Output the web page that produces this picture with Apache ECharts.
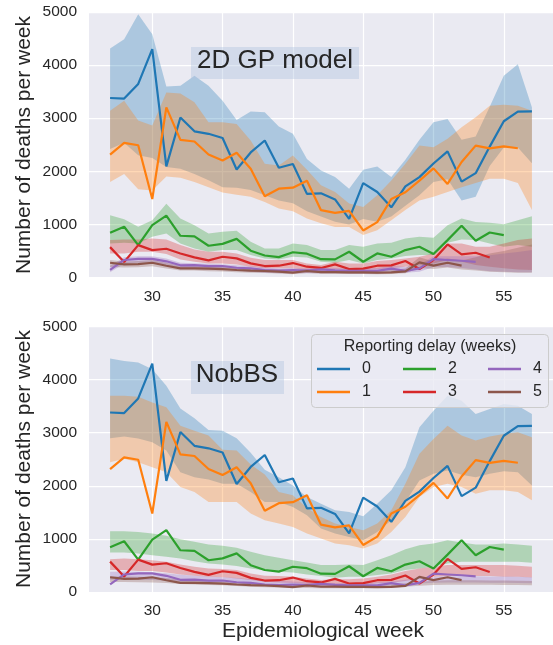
<!DOCTYPE html>
<html><head><meta charset="utf-8">
<script src="https://cdn.jsdelivr.net/npm/echarts@6/dist/echarts.min.js"></script>
<style>html,body{margin:0;padding:0;background:#fff}#c{width:553px;height:645px}</style>
</head><body><div id="c"></div>
<script>
// ---- data ----
const weeks = [27,28,29,30,31,32,33,34,35,36,37,38,39,40,41,42,43,44,45,46,47,48,49,50,51,52,53,54,55,56,57];
const delays = ['0','1','2','3','4','5'];

// observed counts per reporting delay (shared by both panels)
const obs0 = [3380,3370,3645,4300,2092,3012,2753,2706,2628,2035,2355,2580,2068,2138,1575,1585,1470,1105,1777,1610,1322,1715,1890,2147,2375,1806,1965,2465,2943,3125,3128];
const obs1 = [2315,2536,2490,1479,3204,2592,2561,2317,2204,2348,2048,1529,1673,1692,1822,1268,1218,1255,886,1042,1478,1605,1825,2055,1762,2175,2484,2431,2468,2434];
const obs2 = [843,955,611,986,1164,786,774,598,633,727,505,414,383,476,448,345,341,485,297,453,391,516,579,441,704,973,691,848,797];
const obs3 = [572,291,610,516,541,453,378,322,391,360,266,216,222,272,203,180,247,159,166,222,228,310,159,328,622,435,466,378];
const obs4 = [142,330,352,352,305,230,234,216,216,184,172,141,128,141,128,152,136,124,124,124,168,124,172,345,330,315,293];
const obs5 = [278,247,253,278,222,172,172,166,159,141,128,122,109,91,122,103,103,97,97,91,97,116,286,223,277,223];

// 2D GP model intervals
const gp0Lo = [2420,2540,2300,2250,2080,2050,1950,1830,1700,1690,1650,1550,1450,1400,1250,1150,1050,1000,1100,1050,1150,1350,1550,1800,1850,1450,1520,2100,2450,2450,2150];
const gp0Hi = [4311,4487,4956,4581,3598,3611,3799,3611,3330,2968,3124,3110,2842,2705,2230,2017,1891,1673,2030,2092,1891,2217,2592,2923,2986,2592,2655,3217,3799,4018,3204];
const gp1Lo = [1800,1950,1660,1640,1900,1880,1800,1700,1600,1560,1520,1420,1300,1250,1110,1020,950,950,800,890,1080,1270,1450,1520,1610,1700,1780,1860,1860,1780,1270];
const gp1Hi = [3142,3330,2955,2861,3486,3467,3299,2923,2923,2892,2580,2142,2111,2298,2030,1735,1610,1392,1329,1548,1829,2142,2486,2454,2611,2829,3017,3236,3255,3236,3142];
const gp2Lo = [641,653,641,766,829,641,547,485,516,516,422,360,341,391,378,297,278,328,266,328,360,403,422,422,653,716,704,641,579,610,579];
const gp2Hi = [1172,1097,954,1079,1391,1110,985,829,860,879,672,547,547,641,610,516,516,610,579,641,653,735,766,747,985,1110,1047,1029,1004,1079,1154];
const gp3Lo = [453,453,485,485,441,341,297,266,266,247,203,172,172,172,141,141,153,141,141,153,172,203,234,266,328,297,234,203,172,153,141];
const gp3Hi = [704,716,716,735,716,610,529,485,485,453,372,328,328,328,266,234,297,266,266,310,328,360,391,453,641,641,579,579,641,704,735];
const gp4Lo = [100,260,280,280,240,170,160,150,150,130,110,90,80,80,80,80,80,70,70,70,90,90,110,200,200,180,150,120,110,100,100];
const gp4Hi = [220,380,400,400,360,280,270,260,250,230,210,190,170,180,170,190,180,170,170,180,220,200,240,400,400,400,400,420,450,480,520];
const gp5Lo = [200,190,195,210,170,130,130,120,115,100,90,85,75,60,85,70,70,65,65,60,65,80,180,160,190,150,130,110,100,90,90];
const gp5Hi = [330,300,310,330,280,220,220,210,205,190,170,160,150,130,160,140,140,130,130,125,140,170,380,300,360,320,380,450,500,560,620];

// NobBS intervals
const nb0Lo = [2895,2927,2890,2820,2664,2257,2163,2120,2039,2039,1882,1694,1694,1601,1445,1195,1101,1038,976,1132,1351,1694,2101,2226,2289,2208,2163,2226,2276,2257,2007];
const nb0Hi = [4396,4352,4321,4196,3883,3458,3270,3052,3039,2895,2621,2302,2163,2007,1788,1664,1538,1507,1426,1664,1914,2351,3101,3414,3696,3602,3352,3446,3540,3508,3352];
const nb1Lo = [2445,2508,2445,2351,2257,1976,1882,1694,1694,1694,1476,1351,1288,1226,1101,1007,913,882,819,913,1132,1413,1788,1976,2039,1976,1852,1914,1914,1882,1726];
const nb1Hi = [3696,3696,3677,3570,3477,3133,3039,2945,2677,2664,2401,2214,1882,1820,1582,1413,1288,1226,1163,1288,1538,2039,2602,2883,3133,2945,2852,2927,2977,3007,2914];
const nb2Lo = [744,744,725,694,663,631,581,538,519,488,444,407,381,369,331,300,269,288,288,319,350,413,444,475,538,569,569,569,569,569,550];
const nb2Hi = [1144,1144,1132,1101,1057,994,944,894,869,831,757,694,644,600,556,507,507,519,507,600,694,807,882,913,976,932,894,894,913,894,869];
const nb3Lo = [413,413,394,394,369,331,306,288,277,256,225,194,181,169,150,144,144,144,131,163,175,206,256,288,300,300,300,300,288,288,275];
const nb3Hi = [619,631,619,600,569,519,475,444,431,413,350,306,300,288,256,225,238,238,256,288,331,394,444,475,507,507,507,507,507,494,475];
const nb4Lo = [230,235,230,225,215,195,185,175,170,160,145,135,125,120,110,105,100,100,100,110,120,140,160,175,180,180,180,175,175,170,165];
const nb4Hi = [380,385,380,370,355,325,305,290,280,265,240,220,210,200,185,175,170,170,170,185,200,230,260,285,295,295,295,290,290,285,280];
const nb5Lo = [190,190,185,180,170,150,140,130,125,115,100,90,85,80,75,70,70,70,70,75,85,100,120,130,135,135,135,135,130,130,125];
const nb5Hi = [290,290,285,280,265,235,220,205,195,180,160,145,140,130,120,115,115,115,115,125,140,165,195,210,220,220,220,215,215,210,205];

const yTicks = [0,1000,2000,3000,4000,5000];

// ---- build ----
const COLORS = ['#1f77b4','#ff7f0e','#2ca02c','#d62728','#9467bd','#8c564b'];
const FONT = '"Liberation Sans", Arial, Helvetica, sans-serif';
const TXT = '#262626';
const obs = [obs0,obs1,obs2,obs3,obs4,obs5];
const gpBands = [[gp0Lo,gp0Hi],[gp1Lo,gp1Hi],[gp2Lo,gp2Hi],[gp3Lo,gp3Hi],[gp4Lo,gp4Hi],[gp5Lo,gp5Hi]];
const nbBands = [[nb0Lo,nb0Hi],[nb1Lo,nb1Hi],[nb2Lo,nb2Hi],[nb3Lo,nb3Hi],[nb4Lo,nb4Hi],[nb5Lo,nb5Hi]];

function bandSeries(lo, hi, color, g, k) {
  return {
    type: 'custom', name: 'band' + g + '_' + k, xAxisIndex: g, yAxisIndex: g, silent: true, z: 2,
    data: weeks.map((w, i) => [w, lo[i], hi[i]]),
    encode: { x: 0, y: [1, 2] },
    renderItem: function (params, api) {
      if (params.dataIndex !== 0) return null;
      const top = [], bot = [];
      for (let i = 0; i < weeks.length; i++) {
        top.push(api.coord([weeks[i], hi[i]]));
        bot.push(api.coord([weeks[i], lo[i]]));
      }
      return { type: 'polygon', shape: { points: top.concat(bot.reverse()) },
               style: { fill: color, opacity: 0.3 } };
    }
  };
}
function lineSeries(k, g) {
  return {
    type: 'line', name: delays[k], xAxisIndex: g, yAxisIndex: g, z: 3, silent: true,
    data: obs[k].map((v, i) => [weeks[i], v]),
    symbol: 'none', showSymbol: false,
    lineStyle: { width: 2.2, color: COLORS[k] }, itemStyle: { color: COLORS[k] }
  };
}
const series = [];
[gpBands, nbBands].forEach((bands, g) => {
  bands.forEach((b, k) => series.push(bandSeries(b[0], b[1], COLORS[k], g, k)));
  for (let k = 0; k < 6; k++) series.push(lineSeries(k, g));
});

function xAxis(g) {
  return {
    type: 'value', gridIndex: g, min: 25.5, max: 58.5,
    axisLine: { show: false }, axisTick: { show: false },
    splitLine: { show: true, showMinLine: false, showMaxLine: false, lineStyle: { color: '#ffffff', width: 1.25 } },
    axisLabel: { showMinLabel: false, showMaxLabel: false, fontSize: 15.5, color: TXT, fontFamily: FONT, margin: 11,
                 formatter: v => String(v) }
  };
}
function yAxis(g) {
  return {
    type: 'value', gridIndex: g, min: yTicks[0], max: yTicks[yTicks.length - 1], interval: yTicks[1] - yTicks[0],
    axisLine: { show: false }, axisTick: { show: false },
    splitLine: { show: true, lineStyle: { color: '#ffffff', width: 1.25 } },
    axisLabel: { fontSize: 15.5, color: TXT, fontFamily: FONT, margin: 12, formatter: v => String(v) }
  };
}
function legendCol(items, left) {
  return {
    data: items, left: left, top: 361, orient: 'vertical', padding: 0,
    itemWidth: 33, itemHeight: 2.6, icon: 'rect', itemGap: 7, selectedMode: false, z: 120,
    textStyle: { fontSize: 16, color: TXT, fontFamily: FONT, padding: [0, 0, 0, 7] }
  };
}
function txt(x, y, text, size, extra) {
  return Object.assign({ type: 'text', x: x, y: y, z: 60,
    style: { text: text, font: size + 'px ' + FONT, fill: TXT, align: 'center', verticalAlign: 'middle',
             textAlign: 'center', textVerticalAlign: 'middle' } }, extra || {});
}

const chart = echarts.init(document.getElementById('c'), null, { renderer: 'canvas' });
chart.setOption({
  animation: false,
  backgroundColor: '#ffffff',
  grid: [
    { left: 89, top: 12, width: 468.6, height: 265.5, show: true, backgroundColor: '#EAEAF2', borderWidth: 0 },
    { left: 89, top: 326.5, width: 468.6, height: 265.5, show: true, backgroundColor: '#EAEAF2', borderWidth: 0 }
  ],
  xAxis: [xAxis(0), xAxis(1)],
  yAxis: [yAxis(0), yAxis(1)],
  legend: [legendCol(['0', '1'], 317), legendCol(['2', '3'], 403), legendCol(['4', '5'], 488)],
  series: series,
  graphic: [
    txt(24.5, 145, 'Number of deaths per week', 21, { rotation: Math.PI / 2 }),
    txt(24.5, 459, 'Number of deaths per week', 21, { rotation: Math.PI / 2 }),
    txt(323, 631, 'Epidemiological week', 21),
    { type: 'rect', z: 50, shape: { x: 191, y: 47, width: 168, height: 32 }, style: { fill: 'rgba(176,196,222,0.4)' } },
    txt(275, 61, '2D GP model', 26, { z: 51 }),
    { type: 'rect', z: 50, shape: { x: 191, y: 361, width: 93, height: 33 }, style: { fill: 'rgba(176,196,222,0.4)' } },
    txt(237, 375, 'NobBS', 26, { z: 51 }),
    { type: 'rect', z: 100, shape: { x: 311.5, y: 334.5, width: 237, height: 73, r: 4 },
      style: { fill: 'rgba(234,234,242,0.8)', stroke: '#cccccc', lineWidth: 1 } },
    txt(430, 347, 'Reporting delay (weeks)', 16, { z: 101 })
  ]
});
</script>
</body></html>
